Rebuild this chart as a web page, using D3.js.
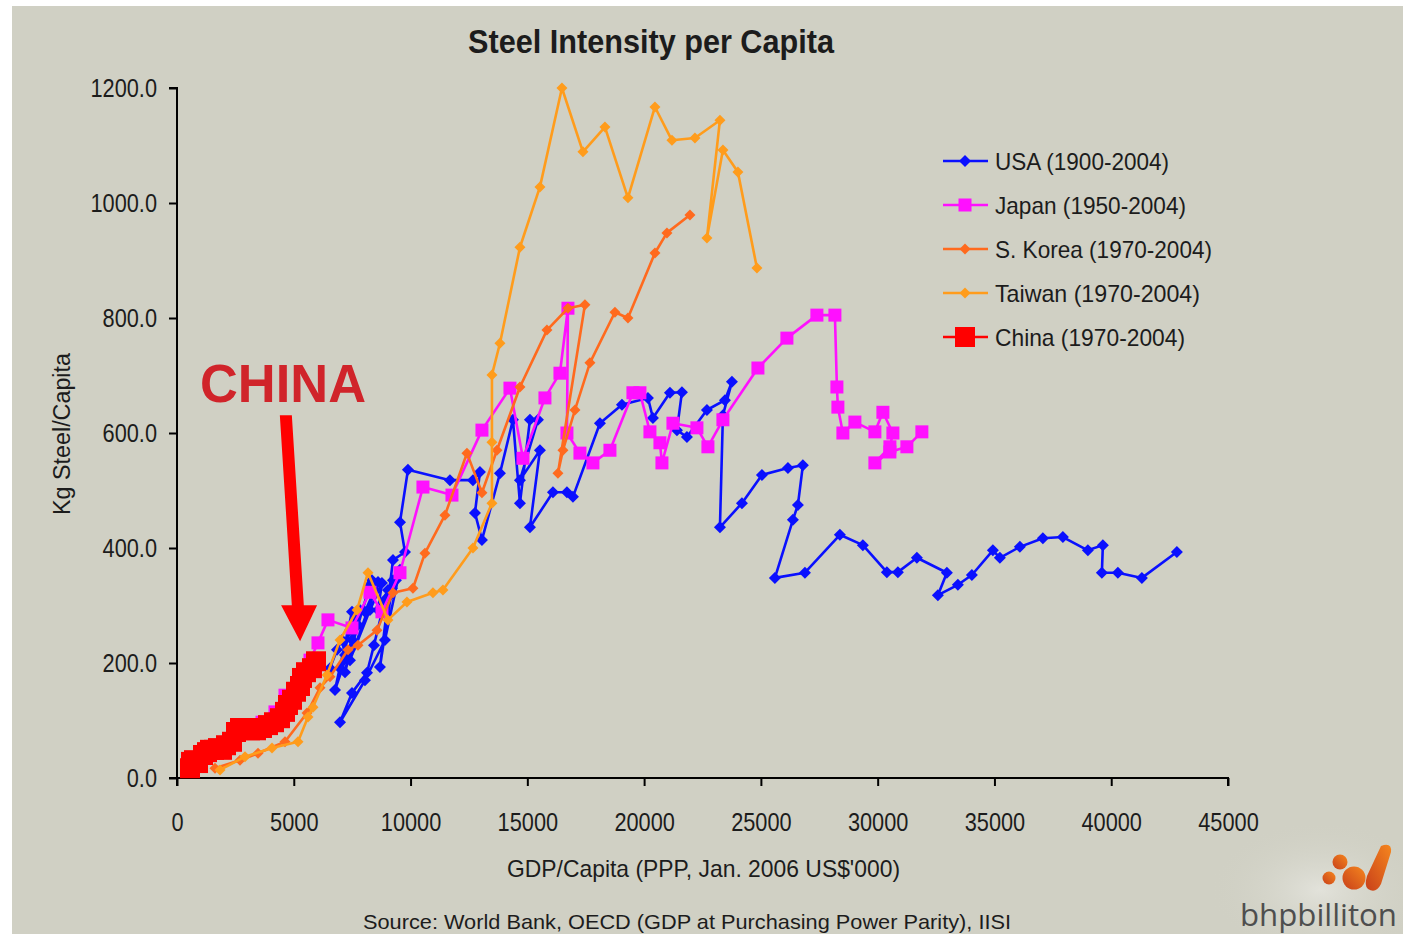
<!DOCTYPE html>
<html><head><meta charset="utf-8">
<script src="https://cdn.jsdelivr.net/npm/d3@7"></script>
<style>
html,body{margin:0;padding:0;background:#fff;}
svg{display:block;}
text{font-family:"Liberation Sans Narrow","Arial Narrow","Liberation Sans",Arial,sans-serif;}
</style></head><body>
<svg id="chart" width="1403" height="934"></svg>
<script>
// GDP per capita (PPP, 2006 US$) and steel use per capita (kg)
const usaGdp = [6550,6850,7064,7192,6978,7406,7663,7492,6764,7492,7620,7406,7834,7706,7192,7749,8262,8348,8605,8048,8476,7406,8262,8776,8605,9033,9247,9119,9375,9547,8904,8048,6978,7492,8134,8434,8904,9204,8690,9247,9761,9547,9889,11687,12672,12971,12757,13057,13828,14384,14684,15112,15454,14684,15540,15112,16097,16696,16953,18109,19050,20164,20378,21105,21619,21405,21833,22689,23460,23760,23374,23246,24188,25044,26157,26799,26585,26371,25600,26885,28383,29368,30395,30866,31679,32964,32578,33435,34034,34933,35233,36089,37073,37930,39000,39642,39600,40284,41312,42810];
const usaSteel = [191,223,240,214,191,257,283,289,153,240,266,223,292,289,184,266,336,344,341,289,327,205,292,339,292,327,344,318,344,362,240,170,97,148,183,231,310,330,193,379,393,445,536,518,518,532,461,414,530,623,478,623,623,518,570,436,497,497,489,617,649,661,626,670,671,605,593,640,657,689,631,436,478,527,539,544,475,449,348,357,423,405,358,358,383,357,318,336,353,396,383,402,417,419,396,405,357,357,348,393];

const japanGdp = [2483,3040,3639,4195,4623,5266,5694,6036,6464,7492,8262,8776,9547,10531,11773,13057,14256,14812,15754,16396,16739,16696,17252,17809,18537,19521,19821,20249,20677,20763,21234,22261,22732,23374,24873,26114,27398,28169,28255,28297,28511,29025,29881,30224,30652,30524,29881,30524,31251,31893];
const japanSteel = [66,80,97,115,144,170,205,235,275,261,323,289,357,506,492,605,678,556,661,704,817,600,565,548,570,670,670,602,583,548,617,609,576,623,713,765,805,805,680,645,600,619,602,636,600,576,548,567,576,602];

const koreaGdp = [1627,2697,3468,4623,5565,6122,6550,7321,7749,8562,9247,10103,10617,11473,12415,13057,13699,14684,15840,16739,17466,16311,16525,17038,17681,18751,19307,20463,20977,21962];
const koreaSteel = [17,31,43,63,113,157,176,223,231,257,322,330,391,457,565,496,570,680,779,817,823,530,570,640,722,810,800,913,948,979];

const taiwanGdp = [1841,2911,4067,5180,5608,5822,6422,6978,7706,8177,9033,9846,10959,11387,12672,13485,13485,13485,13828,14684,15540,16482,17381,18323,19307,20463,21191,22176,23246,22689,23374,24016,24830];
const taiwanSteel = [14,37,52,63,106,123,179,240,292,357,275,306,322,327,400,478,584,701,756,923,1028,1200,1089,1132,1009,1167,1109,1113,1144,939,1092,1054,887];

const chinaGdp = [557,599,728,899,1113,1284,1413,1584,1755,1926,2098,2355,2526,2697,2911,3125,3382,3639,3896,4153,4409,4623,4752,4923,5094,5266,5351,5522,5779,5951];
const chinaSteel = [17,28,31,26,40,45,49,49,52,49,57,63,80,87,87,83,83,87,92,97,104,115,127,136,150,160,174,184,191,203];

const seriesNames = ["USA (1900-2004)","Japan (1950-2004)","S. Korea (1970-2004)","Taiwan (1970-2004)","China (1970-2004)"];
const yTicks = [0,200,400,600,800,1000,1200];
const xTicks = [0,5000,10000,15000,20000,25000,30000,35000,40000,45000];

const chartTitle = "Steel Intensity per Capita";
const xTitle = "GDP/Capita (PPP, Jan. 2006 US$'000)";
const yTitle = "Kg Steel/Capita";
const sourceNote = "Source: World Bank, OECD (GDP at Purchasing Power Parity), IISI";

const zip = (xs, ys) => xs.map((v, i) => ({gdp: v, steel: ys[i]}));
const series = [
  {name: seriesNames[0], data: zip(usaGdp, usaSteel), color: "#0a10ff", shape: "diamond", size: 6},
  {name: seriesNames[1], data: zip(japanGdp, japanSteel), color: "#ff10ff", shape: "square", size: 6.5},
  {name: seriesNames[2], data: zip(koreaGdp, koreaSteel), color: "#ff6a1e", shape: "diamond", size: 5.5},
  {name: seriesNames[3], data: zip(taiwanGdp, taiwanSteel), color: "#ff9c1c", shape: "diamond", size: 5.5},
  {name: seriesNames[4], data: zip(chinaGdp, chinaSteel), color: "#ff0000", shape: "square", size: 10}
];

const svg = d3.select("#chart");
const W = 1403, H = 934;
const INK = "#1c1c1c";

// panel background
svg.append("rect").attr("x", 12).attr("y", 6).attr("width", W - 12).attr("height", H - 6).attr("fill", "#d0d0c4");

const x = d3.scaleLinear().domain([0, 45000]).range([177, 1228]);
const y = d3.scaleLinear().domain([0, 1200]).range([778, 88]);

// axes
const yAxis = svg.append("g").attr("transform", "translate(177,0)")
  .call(d3.axisLeft(y).tickValues(yTicks).tickFormat(d3.format(".1f")).tickSize(8).tickPadding(12));
const xAxis = svg.append("g").attr("transform", "translate(0,778)")
  .call(d3.axisBottom(x).tickValues(xTicks).tickFormat(d => String(d)).tickSize(8).tickPadding(27));
[yAxis, xAxis].forEach(g => {
  g.select(".domain").attr("stroke", "#000").attr("stroke-width", 2);
  g.selectAll(".tick line").attr("stroke", "#000").attr("stroke-width", 2);
  g.selectAll(".tick text").attr("font-size", 25).style("fill", INK)
    .style("font-family", '"Liberation Sans Narrow","Arial Narrow","Liberation Sans",Arial,sans-serif')
    .each(function () {
      // condensed digits, as in a narrow face
      const w = this.getComputedTextLength();
      d3.select(this).attr("textLength", w * 0.87).attr("lengthAdjust", "spacingAndGlyphs");
    });
});
yAxis.select(".domain").attr("d", "M-8,88H0V786");
xAxis.select(".domain").attr("d", "M169,0H1228V8");

function markerPath(shape, r) {
  if (shape === "diamond") return `M0,${-r}L${r},0L0,${r}L${-r},0Z`;
  return `M${-r},${-r}H${r}V${r}H${-r}Z`;
}

const line = d3.line().x(d => x(d.gdp)).y(d => y(d.steel));
const plot = svg.append("g");
series.forEach(s => {
  const g = plot.append("g");
  g.append("path").datum(s.data).attr("d", line).attr("fill", "none")
    .attr("stroke", s.color).attr("stroke-width", 2.6).attr("stroke-linejoin", "round");
  g.selectAll("path.m").data(s.data).join("path").attr("class", "m")
    .attr("d", markerPath(s.shape, s.size))
    .attr("transform", d => `translate(${x(d.gdp)},${y(d.steel)})`)
    .attr("fill", s.color);
});

// legend
const legend = svg.append("g");
series.forEach((s, i) => {
  const cy = 161 + i * 44;
  legend.append("line").attr("x1", 943).attr("x2", 988).attr("y1", cy).attr("y2", cy)
    .attr("stroke", s.color).attr("stroke-width", 2.6);
  legend.append("path").attr("d", markerPath(s.shape, s.size)).attr("transform", `translate(965,${cy})`).attr("fill", s.color);
  legend.append("text").attr("x", 995).attr("y", cy + 9).attr("font-size", 24).style("fill", INK).text(s.name)
    .attr("textLength", [174, 191, 217, 205, 190][i]).attr("lengthAdjust", "spacingAndGlyphs");
});

// titles
svg.append("text").attr("x", 468).attr("y", 53).attr("font-size", 34).attr("font-weight", "bold").style("fill", INK)
  .attr("textLength", 366).attr("lengthAdjust", "spacingAndGlyphs").text(chartTitle);
svg.append("text").attr("transform", "translate(70,515) rotate(-90)").attr("font-size", 23).style("fill", INK)
  .attr("textLength", 162).attr("lengthAdjust", "spacingAndGlyphs").text(yTitle);
svg.append("text").attr("x", 507).attr("y", 877).attr("font-size", 24).style("fill", INK)
  .attr("textLength", 393).attr("lengthAdjust", "spacingAndGlyphs").text(xTitle);
svg.append("text").attr("x", 363).attr("y", 929).attr("font-size", 21).style("fill", INK)
  .attr("textLength", 648).attr("lengthAdjust", "spacingAndGlyphs").text(sourceNote);

// China callout
svg.append("text").attr("x", x(985)).attr("y", 402).attr("font-size", 53).attr("font-weight", "bold")
  .style("font-family", '"Liberation Sans",Arial,sans-serif').style("fill", "#d0242a")
  .attr("textLength", 166).attr("lengthAdjust", "spacingAndGlyphs").text("CHINA");
{
  const tipX = x(5270), tipY = y(238);
  const topX = x(4660), topY = y(631);
  const headY = tipY - 36;
  const shaftBX = topX + (tipX - topX) * ((headY - topY) / (tipY - topY));
  svg.append("path").attr("fill", "#ff0000")
    .attr("d", `M${topX - 6},${topY} L${topX + 6},${topY} L${shaftBX + 6},${headY} L${tipX + 17},${headY} L${tipX},${tipY} L${tipX - 19},${headY} L${shaftBX - 6},${headY} Z`);
}

// company mark
const defs = svg.append("defs");
const lg = defs.append("linearGradient").attr("id", "bhpGrad").attr("x1", 0).attr("y1", 1).attr("x2", 1).attr("y2", 0);
lg.append("stop").attr("offset", 0).attr("stop-color", "#c8401a");
lg.append("stop").attr("offset", 1).attr("stop-color", "#f5861e");
const rg = defs.append("radialGradient").attr("id", "glow");
rg.append("stop").attr("offset", 0).attr("stop-color", "#e4e4dd").attr("stop-opacity", 0.9);
rg.append("stop").attr("offset", 1).attr("stop-color", "#d0d0c4").attr("stop-opacity", 0);
svg.append("ellipse").attr("cx", 1320).attr("cy", 890).attr("rx", 110).attr("ry", 70).attr("fill", "url(#glow)");
const logo = svg.append("g").attr("fill", "url(#bhpGrad)");
logo.append("circle").attr("cx", 1340).attr("cy", 862).attr("r", 7.5);
logo.append("circle").attr("cx", 1329).attr("cy", 878).attr("r", 6.5);
logo.append("circle").attr("cx", 1354).attr("cy", 878).attr("r", 11.5);
logo.append("path").attr("d", "M1381,846 Q1392,842 1391,852 L1381,884 Q1376,894 1368,889 Q1364,886 1367,876 Z");
svg.append("text").attr("x", 1240).attr("y", 926).attr("font-size", 31)
  .style("font-family", '"Open Sans","Noto Sans",sans-serif').style("fill", "#4e4e4e")
  .attr("textLength", 157).attr("lengthAdjust", "spacingAndGlyphs").text("bhpbilliton");
</script>
</body></html>
